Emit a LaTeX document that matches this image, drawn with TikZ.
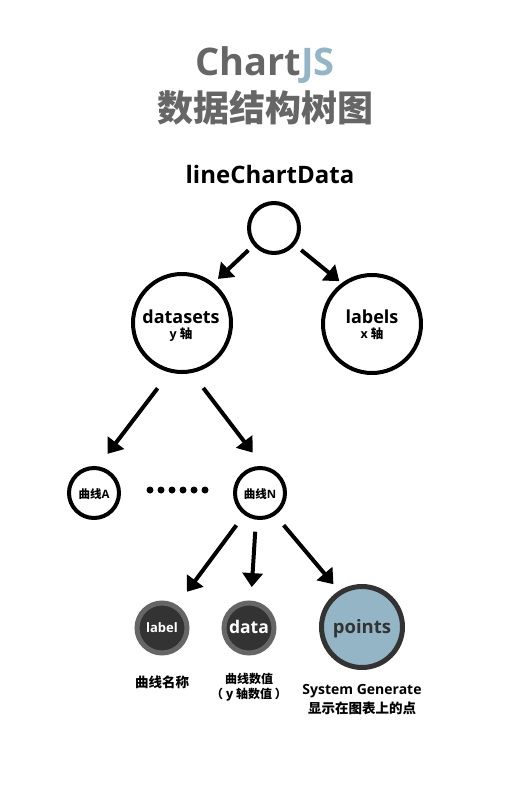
\documentclass[tikz,border=0pt]{standalone}
\usepackage{fontspec}
\setmainfont{Open Sans}
\newfontfamily\cjk{Noto Sans CJK SC}
\usetikzlibrary{arrows.meta}
\definecolor{titlegray}{HTML}{666666}
\definecolor{jsblue}{HTML}{93B5C6}
\definecolor{darkfill}{HTML}{333333}
\definecolor{ringgray}{HTML}{666666}
\begin{document}
\begin{tikzpicture}[x=1pt,y=-1pt,
  ring/.style={circle,draw=black,line width=4pt,inner sep=0pt,outer sep=0pt,fill=white},
  darkring/.style={circle,draw=ringgray,line width=5pt,fill=darkfill,inner sep=0pt,outer sep=0pt,minimum size=50pt},
  arr/.style={line width=4pt,-{Triangle[length=14pt,width=20pt]}},
  txt/.style={inner sep=0pt,outer sep=0pt,font=\bfseries},
  dot/.style={circle,fill=black,inner sep=0pt,minimum size=7pt}]
\useasboundingbox[fill=white] (0,0) rectangle (528,792);

% titles
\node[txt,anchor=base,text=titlegray,font=\bfseries\fontsize{38}{40}\selectfont] (t1) at (265,75) {Chart\textcolor{jsblue}{JS}};
\node[txt,anchor=base,text=titlegray,font=\cjk\bfseries\fontsize{36}{38}\selectfont] (t2) at (265,121) {数据结构树图};
\node[txt,anchor=base,font=\bfseries\fontsize{24}{26}\selectfont] (t3) at (270,183) {lineChartData};

% circles
\node[ring,minimum size=50pt] (root) at (274,228) {};
\node[ring,minimum size=98pt] (ds) at (182,323) {};
\node[ring,minimum size=98pt] (lb) at (372,324) {};
\node[ring,minimum size=50pt] (cA) at (94,493) {};
\node[ring,minimum size=50pt] (cN) at (260,493) {};
\node[darkring] (lab) at (162,628) {};
\node[darkring] (dat) at (249,628) {};
\node[circle,draw=darkfill,line width=5pt,fill=jsblue,inner sep=0pt,outer sep=0pt,minimum size=81pt] (pts) at (362,627) {};

% circle texts
\node[txt,anchor=base,font=\bfseries\fontsize{18}{20}\selectfont] (dsT) at (181,323) {datasets};
\node[txt,anchor=base,font=\bfseries\fontsize{12.5}{13}\selectfont] (dsY) at (181,338.5) {y {\cjk 轴}};
\node[txt,anchor=base,font=\bfseries\fontsize{18}{20}\selectfont] (lbT) at (372,323) {labels};
\node[txt,anchor=base,font=\bfseries\fontsize{12.5}{13}\selectfont] (lbX) at (372,338.5) {x {\cjk 轴}};
\node[txt,font=\bfseries\fontsize{11.5}{12}\selectfont] (cAT) at (94,494) {{\cjk 曲线}A};
\node[txt,font=\bfseries\fontsize{11.5}{12}\selectfont] (cNT) at (260,494) {{\cjk 曲线}N};
\node[txt,anchor=base,text=white,font=\bfseries\fontsize{13}{14}\selectfont] (labT) at (162,632) {label};
\node[txt,anchor=base,text=white,font=\bfseries\fontsize{17.5}{18}\selectfont] (datT) at (249,633) {data};
\node[txt,anchor=base,text=darkfill,font=\bfseries\fontsize{18.5}{20}\selectfont] (ptsT) at (362,633) {points};

% dots
\foreach \i in {0,...,5} {\node[dot] (d\i) at (150+11*\i,490) {};}

% captions
\node[txt,font=\cjk\bfseries\fontsize{13.5}{14}\selectfont] (c1) at (162,682) {曲线名称};
\node[txt,font=\cjk\bfseries\fontsize{12}{13}\selectfont] (c2) at (249,679) {曲线数值};
\node[txt,font=\cjk\bfseries\fontsize{12}{13}\selectfont] (c3) at (249,695) {（ {\bfseries\fontsize{12.5}{13}\selectfont y} 轴数值 ）};
\node[txt,anchor=base,font=\bfseries\fontsize{14}{15}\selectfont] (c4) at (362,694) {System Generate};
\node[txt,font=\cjk\bfseries\fontsize{13.5}{14}\selectfont] (c5) at (362,708) {显示在图表上的点};

% arrows
\draw[arr,shorten <=9pt,shorten >=8pt] (root.-140) -- (ds.52);
\draw[arr,shorten <=10pt,shorten >=5pt] (root.-39) -- (lb.126);
\draw[arr,shorten <=22pt,shorten >=18pt] (ds.-103) -- (cA.84);
\draw[arr,shorten <=21pt,shorten >=20pt] (ds.-80) -- (cN.79);
\draw[arr,shorten <=15pt,shorten >=19pt] (cN.-126) -- (lab.57);
\draw[arr,shorten <=14pt,shorten >=16pt] (cN.-99) -- (dat.86);
\draw[arr,shorten <=15pt,shorten >=11pt] (cN.-56) -- (pts.122);
\end{tikzpicture}
\end{document}
